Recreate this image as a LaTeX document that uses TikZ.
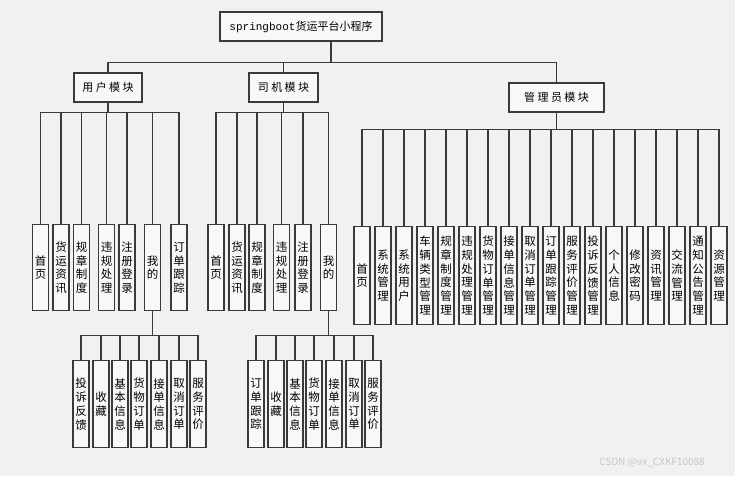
\documentclass[tikz,border=0pt]{standalone}
\usepackage{fontspec}
\setmainfont{Noto Sans CJK SC}
\newfontfamily\monofont{Liberation Mono}
\usetikzlibrary{positioning}
\definecolor{fondo}{HTML}{F1F1F1}
\definecolor{linea}{HTML}{3A3A3A}
\tikzset{
  modulo/.style={rectangle, draw=linea, line width=1.2pt, fill=fondo!50!white,
    minimum height=29pt, inner sep=0pt, font=\fontsize{11}{13}\selectfont},
  hoja/.style={rectangle, draw=linea, line width=1.2pt, fill=fondo!50!white,
    minimum width=16pt, minimum height=#1, inner sep=0pt, align=center,
    anchor=north, font=\fontsize{11.5}{13.7}\selectfont},
  rama/.style={draw=linea, line width=1.2pt}
}
\begin{document}
\begin{tikzpicture}[x=1pt, y=-1pt]
  \fill[fondo] (0,0) rectangle (735,476);

  % --- Raiz y modulos ---
  \node[modulo, minimum width=162pt] (raiz) at (301,26.5)
    {{\monofont springboot}货运平台小程序};
  \node[modulo, minimum width=68pt] (um) at (108,87.5) {用 户 模 块};
  \node[modulo, minimum width=69pt] (dm) at (283.5,87.5) {司 机 模 块};
  \node[modulo, minimum width=95pt] (am) at (556.5,97.5) {管 理 员 模 块};

  \draw[rama] ([xshift=30pt]raiz.south) -- ++(0,21) coordinate (rb);
  \draw[rama] (rb) -| (um.north);
  \draw[rama] (rb) -| (dm.north);
  \draw[rama] (rb) -| (am.north);

  % --- Usuario ---
  \foreach \x/\t [count=\i] in {40.5/{首\\页}, 61/{货\\运\\资\\讯},
      81.5/{规\\章\\制\\度}, 106.5/{违\\规\\处\\理}, 127/{注\\册\\登\\录},
      152.5/{我\\的}, 179/{订\\单\\跟\\踪}} {
    \node[hoja=86pt] (u\i) at (\x,224) {\t};
    \draw[rama] (um.south) -- ++(0,10) -| (u\i.north);
  }
  \foreach \x/\t [count=\i] in {81/{投\\诉\\反\\馈}, 101/{收\\藏},
      120/{基\\本\\信\\息}, 139/{货\\物\\订\\单}, 159/{接\\单\\信\\息},
      179/{取\\消\\订\\单}, 198/{服\\务\\评\\价}} {
    \node[hoja=87pt] (um\i) at (\x,360) {\t};
    \draw[rama] (u6.south) -- ++(0,24) -| (um\i.north);
  }

  % --- Conductor ---
  \foreach \x/\t [count=\i] in {216/{首\\页}, 237/{货\\运\\资\\讯},
      257/{规\\章\\制\\度}, 281.5/{违\\规\\处\\理}, 303/{注\\册\\登\\录},
      328.5/{我\\的}} {
    \node[hoja=86pt] (d\i) at (\x,224) {\t};
    \draw[rama] (dm.south) -- ++(0,10) -| (d\i.north);
  }
  \foreach \x/\t [count=\i] in {256/{订\\单\\跟\\踪}, 276/{收\\藏},
      295/{基\\本\\信\\息}, 314/{货\\物\\订\\单}, 334/{接\\单\\信\\息},
      354/{取\\消\\订\\单}, 373/{服\\务\\评\\价}} {
    \node[hoja=87pt] (dm\i) at (\x,360) {\t};
    \draw[rama] (d6.south) -- ++(0,24) -| (dm\i.north);
  }

  % --- Administrador ---
  \foreach \t [count=\i] in {{首\\页}, {系\\统\\管\\理}, {系\\统\\用\\户},
      {车\\辆\\类\\型\\管\\理}, {规\\章\\制\\度\\管\\理}, {违\\规\\处\\理\\管\\理},
      {货\\物\\订\\单\\管\\理}, {接\\单\\信\\息\\管\\理}, {取\\消\\订\\单\\管\\理},
      {订\\单\\跟\\踪\\管\\理}, {服\\务\\评\\价\\管\\理}, {投\\诉\\反\\馈\\管\\理},
      {个\\人\\信\\息}, {修\\改\\密\\码}, {资\\讯\\管\\理}, {交\\流\\管\\理},
      {通\\知\\公\\告\\管\\理}, {资\\源\\管\\理}} {
    \node[hoja=98pt] (a\i) at ({341+21*\i},226) {\t};
    \draw[rama] (am.south) -- ++(0,17) -| (a\i.north);
  }

  \node[font=\fontsize{10}{12}\selectfont, text=gray!45] (marca) at (652,463)
    {CSDN @vx\_CXKF10088};
\end{tikzpicture}
\end{document}
